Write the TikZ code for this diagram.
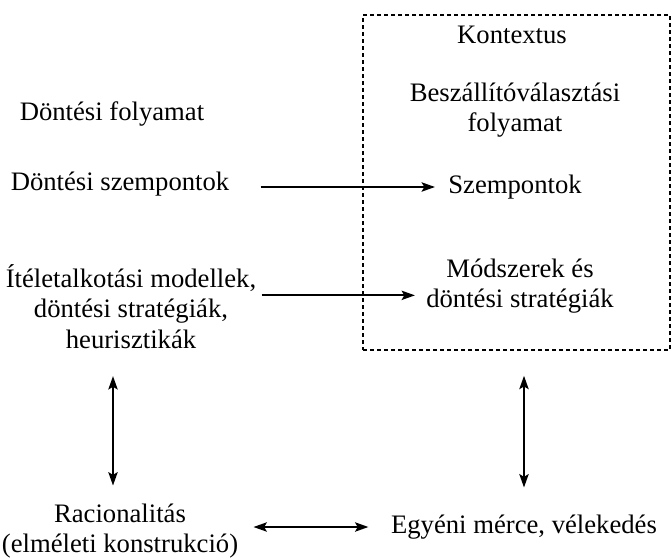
\documentclass[tikz,border=0pt]{standalone}
\usepackage{fontspec}
\setmainfont{Liberation Serif}
\usetikzlibrary{arrows.meta}

\begin{document}
\begin{tikzpicture}[x=0.75pt, y=-0.75pt,
    font=\fontsize{20}{23}\selectfont,
    lbl/.style={align=center},
    arr/.style={-{Stealth[length=10pt,width=7pt,inset=2pt]}, line width=1.3pt},
    dblarr/.style={{Stealth[length=10pt,width=7pt,inset=2pt]}-{Stealth[length=10pt,width=7pt,inset=2pt]}, line width=1.3pt}]
    \useasboundingbox (0,0) rectangle (672,558);

    % Context box
    \node[draw, dash pattern=on 3pt off 2.25pt, line width=1.2pt,
          minimum width=230.25pt, minimum height=251.25pt] (ctx) at (516.5,182.5) {};

    % Left column
    \node[lbl] (dfoly) at (112,114) {Döntési folyamat};
    \node[lbl] (dszemp) at (120,184) {Döntési szempontok};
    \node[lbl] (itelet) at (131,306.5) {Ítéletalkotási modellek,\\ döntési stratégiák,\\ heurisztikák};
    \node[lbl] (racio) at (120,531) {Racionalitás\\ (elméleti konstrukció)};

    % Right column
    \node[lbl] (kontext) at (512,35) {Kontextus};
    \node[lbl] (beszall) at (515,110) {Beszállítóválasztási\\ folyamat};
    \node[lbl] (szemp) at (515,187) {Szempontok};
    \node[lbl] (modsz) at (520,286) {Módszerek és\\ döntési stratégiák};
    \node[lbl] (egyeni) at (524,527) {Egyéni mérce, vélekedés};

    % Horizontal arrows
    \draw[arr, shorten <=20pt, shorten >=6.5pt] (szemp.west -| dszemp.east) -- (szemp.west);
    \draw[arr, shorten <=0.5pt, shorten >=5pt] ([yshift=-7pt]modsz.west -| itelet.east) -- ([yshift=-7pt]modsz.west);
    \draw[dblarr, shorten <=8pt, shorten >=13.5pt] (egyeni.west -| racio.east) -- (egyeni.west);

    % Vertical arrows
    \draw[dblarr, shorten <=17pt, shorten >=10pt] ([xshift=-13.5pt]itelet.south) -- ([xshift=-13.5pt]itelet.south |- racio.north);
    \draw[dblarr, shorten <=18.75pt, shorten >=17pt] (egyeni.north |- ctx.south) -- (egyeni.north);

\end{tikzpicture}
\end{document}
